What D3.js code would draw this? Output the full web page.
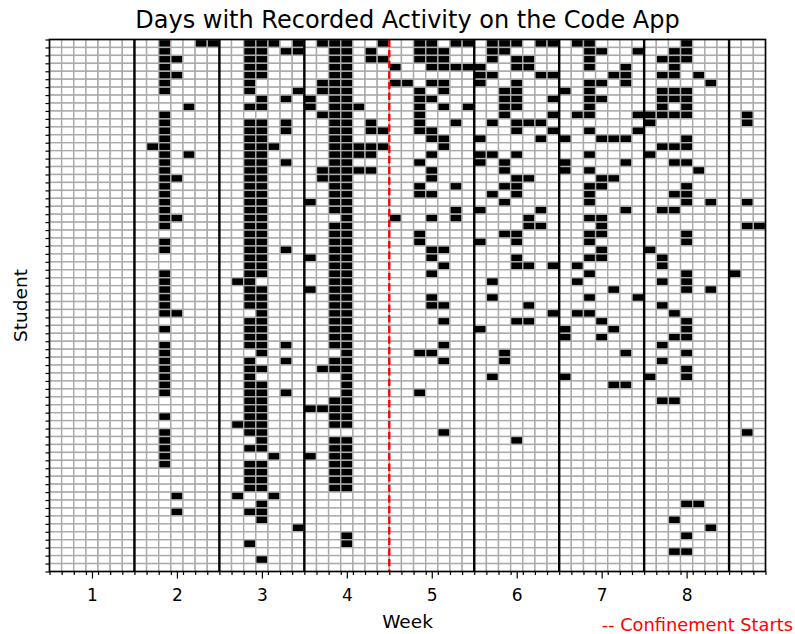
<!DOCTYPE html>
<html>
<head>
<meta charset="utf-8">
<script src="https://cdn.jsdelivr.net/npm/d3@7"></script>
<style>
  body { margin: 0; background: #fff; }
  svg { display: block; font-family: "DejaVu Sans", sans-serif; }
</style>
</head>
<body>
<svg id="chart" width="795" height="634"></svg>
<script>
const weekTicks = [1, 2, 3, 4, 5, 6, 7, 8];
const weekBounds = [1.5, 2.5, 3.5, 4.5, 5.5, 6.5, 7.5, 8.5];
const confinementWeek = 4.5;
const nDays = 59;

// one list per student: day indices (0 = first day of week 1) with activity
const activeDays = [
    [9, 12, 13, 16, 17, 18, 20, 22, 23, 24, 27, 30, 31, 33, 34, 36, 37, 38, 40, 41, 43, 44, 52],
    [9, 16, 17, 19, 20, 23, 24, 26, 30, 31, 32, 36, 37, 44, 45, 48, 51, 52],
    [9, 10, 16, 17, 23, 24, 26, 27, 30, 31, 32, 36, 38, 39, 44, 50, 51, 52],
    [9, 16, 17, 23, 24, 28, 31, 32, 33, 34, 35, 38, 39, 44, 47, 51],
    [9, 10, 16, 17, 23, 24, 35, 36, 40, 41, 46, 47, 50, 51, 53],
    [9, 16, 22, 23, 24, 28, 29, 31, 32, 35, 38, 44, 45, 47, 54],
    [9, 16, 20, 22, 23, 24, 30, 32, 37, 38, 42, 44, 50, 51, 52],
    [17, 19, 21, 23, 24, 30, 31, 37, 38, 41, 44, 45, 50, 51, 52],
    [11, 16, 17, 21, 23, 24, 25, 30, 32, 34, 37, 38, 44, 50, 52],
    [9, 22, 23, 24, 30, 37, 41, 43, 44, 48, 49, 50, 51, 52, 57],
    [9, 16, 17, 19, 23, 24, 26, 30, 33, 36, 38, 39, 40, 49, 57],
    [9, 16, 17, 19, 23, 24, 26, 27, 30, 31, 38, 41, 44, 48],
    [9, 16, 17, 23, 24, 31, 32, 35, 40, 42, 45, 46, 47, 52],
    [8, 9, 16, 17, 18, 23, 24, 25, 26, 27, 32, 50, 51, 52],
    [9, 11, 16, 17, 23, 24, 25, 26, 31, 35, 36, 38, 44, 49],
    [9, 16, 17, 19, 23, 24, 30, 35, 37, 42, 47, 51, 52],
    [9, 16, 17, 22, 23, 24, 25, 26, 31, 37, 42, 44, 53],
    [9, 10, 16, 17, 22, 23, 24, 31, 38, 39, 45, 46],
    [9, 16, 17, 23, 24, 30, 33, 37, 38, 44, 45, 52],
    [9, 16, 17, 23, 24, 30, 31, 36, 38, 44, 51, 52],
    [9, 16, 17, 21, 23, 24, 37, 44, 52, 54, 57],
    [9, 16, 17, 23, 24, 33, 35, 40, 47, 50, 51],
    [9, 10, 16, 17, 24, 28, 31, 33, 39, 44, 45],
    [9, 16, 17, 23, 24, 39, 40, 45, 57, 58],
    [16, 17, 23, 24, 30, 37, 38, 44, 45, 52],
    [9, 16, 17, 23, 24, 30, 35, 38, 44, 52],
    [9, 16, 17, 19, 23, 24, 31, 32, 45, 49],
    [16, 17, 21, 23, 24, 31, 38, 44, 45, 50],
    [16, 17, 23, 24, 32, 38, 39, 41, 43, 50],
    [9, 16, 17, 23, 24, 31, 44, 52, 56],
    [9, 15, 16, 23, 24, 36, 43, 50, 52],
    [9, 16, 17, 21, 23, 24, 46, 52, 54],
    [9, 16, 17, 23, 24, 31, 36, 44, 48],
    [9, 16, 17, 23, 24, 31, 32, 39, 50],
    [9, 10, 17, 23, 24, 41, 43, 44, 51],
    [16, 17, 23, 24, 32, 38, 39, 45, 52],
    [9, 16, 17, 23, 24, 35, 42, 46, 52],
    [16, 17, 23, 24, 42, 45, 51, 52],
    [9, 16, 17, 19, 23, 24, 32, 50],
    [9, 17, 24, 30, 31, 37, 47, 52],
    [9, 16, 19, 23, 24, 32, 37, 50],
    [9, 16, 17, 22, 23, 24, 52],
    [9, 16, 24, 36, 42, 49, 52],
    [9, 16, 17, 24, 46, 47],
    [9, 16, 17, 19, 24, 30],
    [16, 17, 23, 24, 50, 51],
    [16, 17, 21, 22, 23, 24],
    [9, 16, 17, 23, 24],
    [15, 16, 17, 23, 24],
    [9, 16, 17, 32, 57],
    [9, 17, 23, 24, 38],
    [9, 16, 17, 23, 24],
    [9, 18, 21, 23, 24],
    [9, 16, 17, 23, 24],
    [16, 17, 23, 24],
    [16, 17, 23, 24],
    [16, 17, 23, 24],
    [10, 15, 18],
    [17, 52, 53],
    [10, 16, 17],
    [17, 51],
    [20, 54],
    [24, 52],
    [16, 24],
    [51, 52],
    [17],
    []
];

const plotLeft = 49.5, plotRight = 765.5, plotTop = 39.5, plotBottom = 571.5;
const svg = d3.select('#chart');

// days are drawn in week units: day d covers [0.5 + d/7, 0.5 + (d+1)/7]
const dayToWeek = d => 0.5 + d / 7;

const xScale = d3.scaleLinear()
    .domain([dayToWeek(0), dayToWeek(nDays)])
    .range([plotLeft, plotRight]);

const yScale = d3.scaleLinear()
    .domain([0, activeDays.length])
    .range([plotTop, plotBottom]);

// the grid of cells
let cells = [];
activeDays.forEach((days, s) => {
    for (let d = 0; d < nDays; d++) {
        cells.push({ student: s, day: d, on: days.includes(d) });
    }
});

svg.append('g')
    .selectAll('rect')
    .data(cells)
    .enter()
    .append('rect')
    .attr('x', d => xScale(dayToWeek(d.day)))
    .attr('y', d => yScale(d.student))
    .attr('width', d => xScale(dayToWeek(d.day + 1)) - xScale(dayToWeek(d.day)))
    .attr('height', d => yScale(d.student + 1) - yScale(d.student))
    .attr('fill', d => d.on ? '#000' : '#fff')
    .attr('stroke', '#aaaaaa')
    .attr('stroke-width', 1.4);

// week separators
svg.append('g')
    .selectAll('line')
    .data(weekBounds.filter(w => w !== confinementWeek))
    .enter()
    .append('line')
    .attr('x1', d => xScale(d))
    .attr('x2', d => xScale(d))
    .attr('y1', plotTop)
    .attr('y2', plotBottom)
    .attr('stroke', '#000')
    .attr('stroke-width', 2.4);

svg.append('line')
    .attr('x1', xScale(confinementWeek))
    .attr('x2', xScale(confinementWeek))
    .attr('y1', plotTop)
    .attr('y2', plotBottom)
    .attr('stroke', '#ff0000')
    .attr('stroke-width', 2.4)
    .attr('stroke-dasharray', '7.4,3.2');

// frame
svg.append('rect')
    .attr('x', plotLeft)
    .attr('y', plotTop)
    .attr('width', plotRight - plotLeft)
    .attr('height', plotBottom - plotTop)
    .attr('fill', 'none')
    .attr('stroke', '#000')
    .attr('stroke-width', 1.6);

// x axis: minor ticks at day edges, major ticks at week centres
svg.append('g')
    .attr('transform', `translate(0, ${plotBottom})`)
    .call(d3.axisBottom(xScale)
        .tickValues(d3.range(nDays + 1).map(dayToWeek))
        .tickSize(3.5)
        .tickFormat(''))
    .call(g => g.select('.domain').remove());

svg.append('g')
    .attr('class', 'x axis')
    .attr('transform', `translate(0, ${plotBottom})`)
    .call(d3.axisBottom(xScale)
        .tickValues(weekTicks)
        .tickSize(7)
        .tickPadding(10)
        .tickFormat(d3.format('d')))
    .call(g => g.select('.domain').remove())
    .call(g => g.selectAll('text')
        .attr('font-family', '"DejaVu Sans", sans-serif')
        .attr('font-size', 17)
        .attr('fill', '#000'));

// y axis: a tick for every student row
svg.append('g')
    .attr('transform', `translate(${plotLeft}, 0)`)
    .call(d3.axisLeft(yScale)
        .tickValues(d3.range(activeDays.length + 1))
        .tickSize(4)
        .tickFormat(''))
    .call(g => g.select('.domain').remove());

svg.selectAll('.tick line').attr('stroke', '#000').attr('stroke-width', 1.2);

// titles
svg.append('text')
    .attr('x', (plotLeft + plotRight) / 2)
    .attr('y', 28)
    .attr('text-anchor', 'middle')
    .attr('font-size', 24)
    .text('Days with Recorded Activity on the Code App');

svg.append('text')
    .attr('x', (plotLeft + plotRight) / 2)
    .attr('y', 628)
    .attr('text-anchor', 'middle')
    .attr('font-size', 18.5)
    .text('Week');

svg.append('text')
    .attr('transform', `translate(26.5, ${(plotTop + plotBottom) / 2}) rotate(-90)`)
    .attr('text-anchor', 'middle')
    .attr('font-size', 18.5)
    .text('Student');

svg.append('text')
    .attr('x', 793)
    .attr('y', 631)
    .attr('text-anchor', 'end')
    .attr('font-size', 17.8)
    .attr('fill', '#ff0000')
    .text('-- Confinement Starts');
</script>
</body>
</html>
